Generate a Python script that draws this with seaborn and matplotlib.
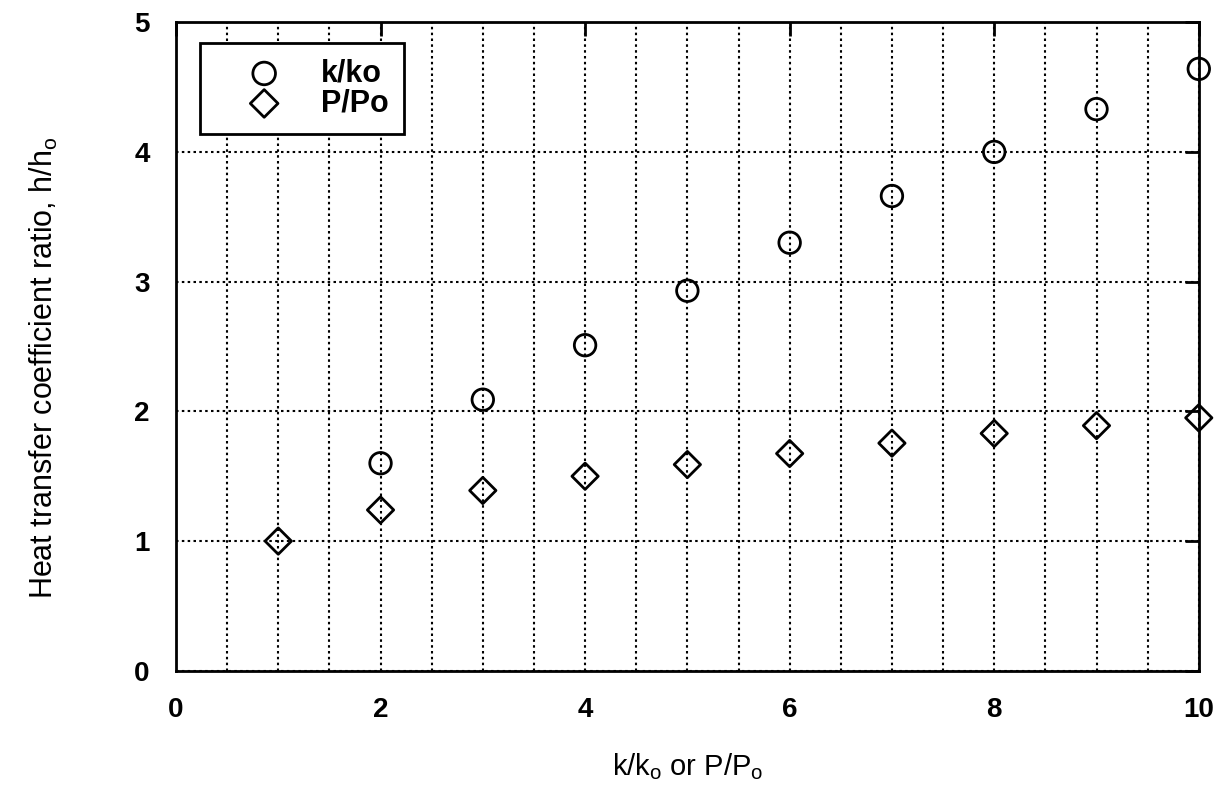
import pandas as pd
import seaborn as sns
import matplotlib.pyplot as plt
from matplotlib.ticker import MultipleLocator

# values
k_ratio = [2, 3, 4, 5, 6, 7, 8, 9, 10]
h_k = [1.60, 2.09, 2.51, 2.93, 3.30, 3.66, 4.00, 4.33, 4.64]
p_ratio = [1, 2, 3, 4, 5, 6, 7, 8, 9, 10]
h_p = [1.00, 1.24, 1.39, 1.50, 1.59, 1.675, 1.755, 1.83, 1.89, 1.95]

df_k = pd.DataFrame({'x': k_ratio, 'h': h_k})
df_p = pd.DataFrame({'x': p_ratio, 'h': h_p})

sns.set_style('white')
plt.rcParams['font.family'] = ['Liberation Sans', 'DejaVu Sans']
plt.rcParams['mathtext.fontset'] = 'custom'
plt.rcParams['mathtext.rm'] = 'Liberation Sans'
plt.rcParams['text.color'] = 'black'
plt.rcParams['axes.labelcolor'] = 'black'

fig = plt.figure(figsize=(12.22, 7.92), dpi=100)
ax = fig.add_axes([0.144, 0.153, 0.837, 0.819])

sns.scatterplot(data=df_k, x='x', y='h', marker='o', s=240, facecolors='none',
                edgecolor='black', linewidth=2, label='k/ko', ax=ax, clip_on=False, zorder=5)
sns.scatterplot(data=df_p, x='x', y='h', marker='D', s=180, facecolors='none',
                edgecolor='black', linewidth=2, label='P/Po', ax=ax, clip_on=False, zorder=5)

ax.set_xlim(0, 10)
ax.set_ylim(0, 5)
ax.xaxis.set_major_locator(MultipleLocator(2))
ax.xaxis.set_minor_locator(MultipleLocator(0.5))
ax.yaxis.set_major_locator(MultipleLocator(1))

ax.grid(True, axis='x', which='both', color='black', linestyle=(0, (1.2, 1.6)), linewidth=1.5)
ax.grid(True, axis='y', which='major', color='black', linestyle=(0, (1.2, 1.6)), linewidth=1.5)
ax.set_axisbelow(True)

for sp in ax.spines.values():
    sp.set_color('black')
    sp.set_linewidth(2)

ax.tick_params(which='major', direction='in', length=10, width=2, top=True, right=True,
               labelsize=20, colors='black')
ax.tick_params(which='minor', length=0)
ax.tick_params(axis='y', pad=19)
ax.tick_params(axis='x', pad=19)
for lab in ax.get_xticklabels() + ax.get_yticklabels():
    lab.set_fontweight('bold')

ax.set_xlabel(r'k/k$_\mathrm{o}$ or P/P$_\mathrm{o}$', fontsize=21, labelpad=20)
ax.set_ylabel(r'Heat transfer coefficient ratio, h/h$_\mathrm{o}$', fontsize=22)
ax.yaxis.set_label_coords(-0.113, 0.467)

leg = ax.legend(loc='upper left', bbox_to_anchor=(0.0235, 0.9676), frameon=True, fancybox=False,
                edgecolor='black', framealpha=1, borderpad=0.5, handletextpad=0.25,
                borderaxespad=0, labelspacing=0.0, prop={'size': 22, 'weight': 'bold'},
                handlelength=3.2, markerscale=1.05)
leg.get_frame().set_linewidth(2)

fig.savefig('out.png', dpi=100)
